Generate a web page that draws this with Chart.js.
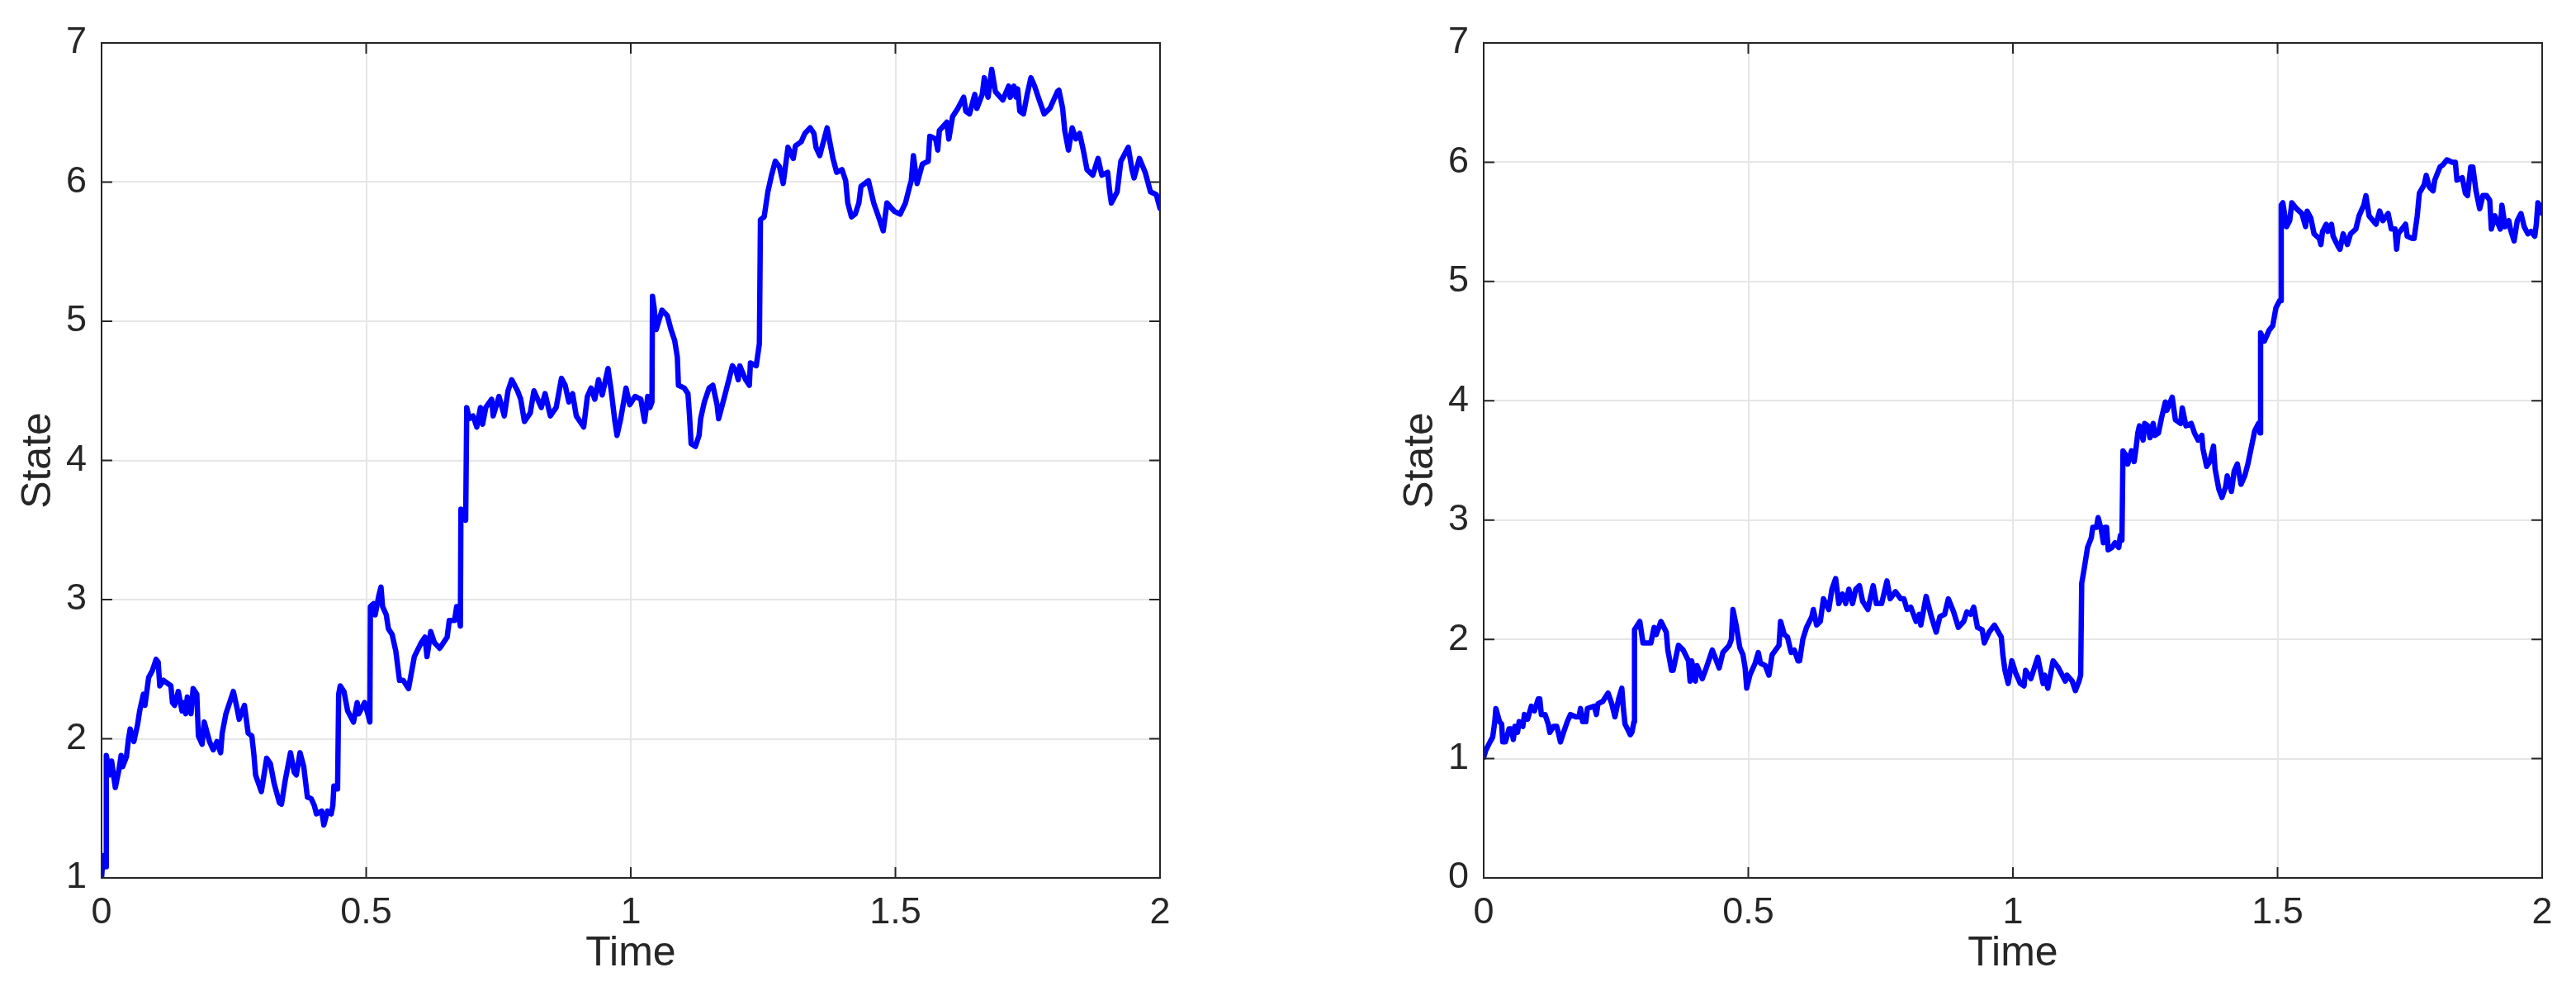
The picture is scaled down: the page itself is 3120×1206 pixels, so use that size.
<!DOCTYPE html>
<html>
<head>
<meta charset="utf-8">
<script src="https://cdn.jsdelivr.net/npm/chart.js@4.4.1/dist/chart.umd.min.js"></script>
<style>
  html, body { margin: 0; padding: 0; background: #fff; }
  body { width: 3120px; height: 1206px; position: relative; overflow: hidden; }
  canvas { position: absolute; top: 0; }
  #leftChart { left: 0; }
  #rightChart { left: 1674px; }
</style>
</head>
<body>
<canvas id="leftChart" width="1446" height="1206"></canvas>
<canvas id="rightChart" width="1446" height="1206"></canvas>
<script>
const timeTicks = [0, 0.5, 1, 1.5, 2];

// left panel: state path
const leftTime = [
  0.000,0.003,0.007,0.008,0.009,0.016,0.019,0.026,0.033,0.037,
  0.040,0.047,0.051,0.054,0.061,0.068,0.072,0.079,0.082,0.089,
  0.096,0.103,0.107,0.110,0.117,0.124,0.131,0.134,0.138,0.145,
  0.152,0.155,0.159,0.162,0.169,0.173,0.180,0.183,0.190,0.194,
  0.204,0.211,0.218,0.225,0.228,0.235,0.242,0.249,0.256,0.260,
  0.270,0.277,0.284,0.288,0.291,0.302,0.312,0.319,0.326,0.336,
  0.340,0.347,0.357,0.364,0.368,0.375,0.382,0.389,0.396,0.402,
  0.406,0.416,0.420,0.427,0.434,0.437,0.439,0.444,0.446,0.448,
  0.451,0.458,0.465,0.476,0.483,0.486,0.497,0.503,0.507,0.508,
  0.514,0.517,0.524,0.528,0.531,0.538,0.542,0.549,0.556,0.563,
  0.570,0.580,0.591,0.604,0.611,0.615,0.622,0.629,0.639,0.653,
  0.657,0.667,0.671,0.674,0.678,0.679,0.685,0.688,0.690,0.695,
  0.702,0.709,0.716,0.720,0.726,0.737,0.740,0.751,0.761,0.768,
  0.775,0.786,0.792,0.799,0.810,0.817,0.824,0.831,0.838,0.848,
  0.859,0.869,0.876,0.883,0.890,0.897,0.911,0.918,0.925,0.932,
  0.939,0.946,0.957,0.963,0.970,0.974,0.981,0.991,0.998,1.008,
  1.019,1.026,1.032,1.036,1.040,1.041,1.044,1.048,1.059,1.069,
  1.076,1.083,1.088,1.090,1.101,1.108,1.111,1.114,1.122,1.129,
  1.132,1.139,1.148,1.155,1.163,1.166,1.173,1.184,1.192,1.199,
  1.203,1.206,1.217,1.224,1.226,1.237,1.243,1.245,1.252,1.259,
  1.266,1.273,1.281,1.288,1.297,1.307,1.311,1.322,1.329,1.339,
  1.346,1.350,1.357,1.371,1.382,1.389,1.399,1.406,1.410,1.417,
  1.424,1.431,1.435,1.449,1.459,1.470,1.477,1.484,1.498,1.509,
  1.519,1.527,1.530,1.534,1.541,1.551,1.562,1.565,1.576,1.580,
  1.583,1.597,1.601,1.608,1.618,1.629,1.633,1.640,1.650,1.654,
  1.664,1.668,1.675,1.682,1.689,1.703,1.714,1.717,1.724,1.728,
  1.731,1.735,1.742,1.749,1.756,1.763,1.770,1.781,1.792,1.806,
  1.809,1.816,1.820,1.827,1.834,1.841,1.848,1.855,1.862,1.873,
  1.883,1.890,1.901,1.905,1.908,1.919,1.926,1.940,1.947,1.951,
  1.961,1.972,1.982,1.993,2.000
];
const leftState = [
  1.00,1.16,1.08,1.08,1.88,1.74,1.84,1.65,1.78,1.88,
  1.80,1.87,2.00,2.07,1.98,2.10,2.20,2.32,2.24,2.44,
  2.49,2.57,2.55,2.38,2.42,2.40,2.38,2.26,2.24,2.34,
  2.20,2.26,2.18,2.30,2.18,2.36,2.32,2.02,1.96,2.12,
  1.98,1.92,1.98,1.90,2.04,2.18,2.26,2.34,2.22,2.14,
  2.24,2.04,2.02,1.88,1.74,1.62,1.86,1.82,1.68,1.54,
  1.53,1.70,1.90,1.76,1.74,1.90,1.80,1.58,1.57,1.52,
  1.46,1.48,1.38,1.48,1.46,1.52,1.66,1.64,1.64,2.32,
  2.38,2.34,2.20,2.12,2.26,2.18,2.26,2.18,2.12,2.95,
  2.97,2.89,3.03,3.09,2.95,2.89,2.79,2.75,2.63,2.42,
  2.42,2.36,2.59,2.69,2.73,2.59,2.77,2.69,2.65,2.73,
  2.85,2.85,2.95,2.91,2.81,3.65,3.63,3.57,4.38,4.30,
  4.32,4.24,4.38,4.26,4.38,4.44,4.32,4.46,4.32,4.50,
  4.58,4.50,4.44,4.28,4.34,4.50,4.44,4.38,4.48,4.32,
  4.38,4.59,4.54,4.42,4.48,4.32,4.24,4.46,4.52,4.44,
  4.58,4.47,4.66,4.50,4.28,4.18,4.30,4.52,4.40,4.46,
  4.44,4.28,4.46,4.38,4.42,5.18,5.10,4.94,5.08,5.04,
  4.94,4.86,4.74,4.54,4.52,4.48,4.32,4.12,4.10,4.18,
  4.30,4.42,4.52,4.54,4.40,4.30,4.40,4.56,4.68,4.64,
  4.58,4.68,4.58,4.54,4.70,4.68,4.84,5.73,5.75,5.93,
  6.05,6.15,6.11,5.99,6.25,6.17,6.26,6.29,6.35,6.39,
  6.35,6.25,6.19,6.39,6.17,6.07,6.09,6.01,5.85,5.75,
  5.77,5.85,5.97,6.01,5.85,5.73,5.65,5.85,5.79,5.77,
  5.85,5.97,6.01,6.19,5.99,6.13,6.15,6.33,6.31,6.23,
  6.37,6.43,6.31,6.47,6.53,6.61,6.51,6.49,6.63,6.53,
  6.63,6.75,6.61,6.81,6.65,6.59,6.69,6.61,6.69,6.61,
  6.67,6.51,6.49,6.63,6.75,6.69,6.61,6.49,6.53,6.65,
  6.66,6.53,6.37,6.23,6.39,6.31,6.35,6.23,6.09,6.05,
  6.17,6.05,6.07,5.93,5.85,5.93,6.15,6.25,6.09,6.03,
  6.17,6.07,5.93,5.91,5.81
];

// right panel
const rightTime = [
  0.000,0.004,0.012,0.017,0.021,0.023,0.030,0.034,0.036,0.041,
  0.048,0.052,0.056,0.059,0.064,0.067,0.074,0.077,0.083,0.090,
  0.096,0.103,0.106,0.109,0.116,0.122,0.125,0.132,0.138,0.141,
  0.145,0.151,0.158,0.164,0.174,0.180,0.183,0.187,0.193,0.196,
  0.209,0.213,0.216,0.225,0.235,0.242,0.248,0.255,0.261,0.264,
  0.267,0.277,0.280,0.284,0.285,0.295,0.301,0.311,0.316,0.322,
  0.326,0.335,0.345,0.348,0.355,0.358,0.368,0.377,0.387,0.390,
  0.393,0.400,0.403,0.413,0.419,0.432,0.445,0.452,0.464,0.468,
  0.471,0.477,0.484,0.490,0.494,0.497,0.503,0.513,0.519,0.523,
  0.532,0.539,0.545,0.558,0.561,0.568,0.574,0.581,0.587,0.594,
  0.597,0.603,0.610,0.620,0.623,0.629,0.636,0.642,0.652,0.658,
  0.665,0.671,0.678,0.684,0.690,0.697,0.703,0.710,0.716,0.726,
  0.736,0.742,0.752,0.762,0.768,0.778,0.788,0.794,0.800,0.807,
  0.817,0.823,0.826,0.836,0.846,0.855,0.862,0.871,0.878,0.888,
  0.897,0.907,0.913,0.920,0.926,0.933,0.942,0.946,0.955,0.965,
  0.978,0.981,0.985,0.991,0.998,1.005,1.014,1.021,1.024,1.034,
  1.047,1.057,1.060,1.066,1.076,1.086,1.099,1.102,1.112,1.118,
  1.125,1.128,1.130,1.135,1.141,1.148,1.151,1.158,1.161,1.167,
  1.171,1.174,1.177,1.180,1.187,1.193,1.200,1.203,1.206,1.208,
  1.214,1.217,1.224,1.229,1.232,1.236,1.239,1.246,1.249,1.255,
  1.259,1.265,1.268,1.275,1.281,1.288,1.291,1.301,1.307,1.317,
  1.320,1.327,1.337,1.343,1.350,1.357,1.359,1.366,1.372,1.379,
  1.382,1.389,1.395,1.402,1.405,1.413,1.418,1.424,1.431,1.438,
  1.444,1.451,1.457,1.464,1.467,1.468,1.475,1.484,1.491,1.497,
  1.504,1.506,1.507,1.510,1.517,1.523,1.527,1.536,1.546,1.553,
  1.556,1.563,1.569,1.579,1.582,1.585,1.592,1.595,1.602,1.605,
  1.615,1.618,1.624,1.632,1.638,1.648,1.654,1.663,1.667,1.673,
  1.686,1.693,1.699,1.709,1.715,1.722,1.725,1.728,1.742,1.745,
  1.755,1.758,1.764,1.768,1.777,1.781,1.787,1.794,1.797,1.807,
  1.813,1.820,1.830,1.836,1.839,1.849,1.855,1.859,1.865,1.869,
  1.875,1.882,1.888,1.895,1.901,1.904,1.911,1.917,1.921,1.924,
  1.930,1.937,1.940,1.947,1.953,1.960,1.966,1.973,1.979,1.986,
  1.989,1.992,1.995,2.000
];
const rightState = [
  1.01,1.07,1.14,1.18,1.31,1.42,1.31,1.29,1.14,1.14,
  1.25,1.25,1.16,1.27,1.22,1.31,1.27,1.37,1.33,1.44,
  1.40,1.50,1.50,1.37,1.37,1.29,1.22,1.27,1.27,1.22,
  1.14,1.22,1.31,1.37,1.35,1.35,1.42,1.31,1.31,1.42,
  1.44,1.37,1.46,1.48,1.55,1.46,1.35,1.50,1.59,1.42,
  1.29,1.20,1.22,1.31,2.08,2.15,1.97,1.97,1.97,2.10,
  2.04,2.15,2.06,1.91,1.74,1.74,1.95,1.91,1.82,1.65,
  1.82,1.65,1.78,1.67,1.74,1.91,1.76,1.89,1.95,2.00,
  2.25,2.12,1.93,1.87,1.76,1.59,1.70,1.80,1.89,1.80,
  1.78,1.70,1.87,1.95,2.15,2.04,2.02,1.89,1.91,1.82,
  1.82,2.00,2.10,2.19,2.25,2.12,2.15,2.34,2.25,2.42,
  2.51,2.30,2.38,2.30,2.42,2.30,2.42,2.45,2.32,2.25,
  2.45,2.30,2.30,2.49,2.34,2.40,2.34,2.34,2.25,2.27,
  2.15,2.21,2.12,2.36,2.19,2.06,2.19,2.21,2.34,2.23,
  2.10,2.15,2.23,2.21,2.27,2.10,2.08,1.97,2.06,2.12,
  2.02,1.87,1.74,1.63,1.82,1.72,1.63,1.61,1.74,1.67,
  1.85,1.63,1.70,1.59,1.82,1.76,1.65,1.70,1.65,1.57,
  1.65,1.70,2.47,2.60,2.77,2.85,2.94,2.94,3.02,2.92,
  2.81,2.94,2.94,2.75,2.77,2.81,2.77,2.87,2.83,3.58,
  3.54,3.47,3.58,3.49,3.58,3.73,3.79,3.67,3.81,3.79,
  3.69,3.81,3.71,3.73,3.86,3.99,3.92,4.03,3.84,3.81,
  3.94,3.79,3.81,3.73,3.67,3.71,3.60,3.45,3.49,3.62,
  3.43,3.26,3.19,3.28,3.37,3.24,3.41,3.47,3.30,3.37,
  3.47,3.62,3.75,3.81,3.73,4.57,4.50,4.59,4.63,4.78,
  4.84,4.84,5.64,5.66,5.46,5.51,5.66,5.61,5.57,5.46,
  5.59,5.53,5.40,5.36,5.31,5.42,5.48,5.42,5.48,5.38,
  5.29,5.27,5.40,5.31,5.40,5.44,5.55,5.64,5.72,5.55,
  5.48,5.59,5.51,5.57,5.44,5.44,5.27,5.40,5.48,5.38,
  5.36,5.36,5.55,5.74,5.81,5.89,5.79,5.76,5.85,5.96,
  5.98,6.02,6.00,6.00,5.85,5.87,5.74,5.72,5.96,5.96,
  5.76,5.61,5.72,5.72,5.68,5.44,5.55,5.48,5.44,5.64,
  5.46,5.51,5.44,5.34,5.51,5.57,5.46,5.40,5.42,5.38,
  5.48,5.66,5.64,5.57
];

const textColor = '#262626';
const fontFamily = "'Liberation Sans', Arial, Helvetica, sans-serif";

// box around the plot area plus inward tick marks on all four sides
const axesBox = {
  id: 'axesBox',
  afterDatasetsDraw(chart) {
    const { ctx, chartArea: a, scales: { x, y } } = chart;
    const len = 13;
    ctx.save();
    ctx.strokeStyle = textColor;
    ctx.lineWidth = 2;
    ctx.beginPath();
    x.ticks.forEach(t => {
      const px = x.getPixelForValue(t.value);
      ctx.moveTo(px, a.bottom); ctx.lineTo(px, a.bottom - len);
      ctx.moveTo(px, a.top); ctx.lineTo(px, a.top + len);
    });
    y.ticks.forEach(t => {
      const py = y.getPixelForValue(t.value);
      ctx.moveTo(a.left, py); ctx.lineTo(a.left + len, py);
      ctx.moveTo(a.right, py); ctx.lineTo(a.right - len, py);
    });
    ctx.stroke();
    ctx.strokeRect(a.left, a.top, a.right - a.left, a.bottom - a.top);
    ctx.restore();
  }
};

function makeChart(id, times, states, yMin) {
  new Chart(document.getElementById(id), {
    type: 'line',
    data: {
      datasets: [{
        data: times.map((t, i) => ({ x: t, y: states[i] })),
        borderColor: '#0000ff',
        borderWidth: 6.5,
        borderJoinStyle: 'round',
        borderCapStyle: 'round',
        pointRadius: 0,
        tension: 0,
        fill: false
      }]
    },
    options: {
      responsive: false,
      animation: false,
      devicePixelRatio: 1,
      layout: { padding: { left: 0, top: 52, right: 41, bottom: 0 } },
      plugins: { legend: { display: false }, tooltip: { enabled: false } },
      scales: {
        x: {
          type: 'linear',
          min: timeTicks[0],
          max: timeTicks[timeTicks.length - 1],
          afterBuildTicks: s => { s.ticks = timeTicks.map(v => ({ value: v })); },
          afterFit: s => { s.height = 143; },
          border: { display: false },
          grid: { color: '#e6e6e6', lineWidth: 2, drawTicks: false },
          ticks: {
            color: textColor,
            padding: 16,
            maxRotation: 0,
            callback: v => String(v),
            font: { family: fontFamily, size: 45 }
          },
          title: {
            display: true,
            text: 'Time',
            color: textColor,
            font: { family: fontFamily, size: 50 },
            padding: { top: 0, bottom: 21 }
          }
        },
        y: {
          min: yMin,
          max: 7,
          afterFit: s => { s.width = 123; },
          border: { display: false },
          grid: { color: '#e6e6e6', lineWidth: 2, drawTicks: false },
          ticks: {
            stepSize: 1,
            color: textColor,
            padding: 18,
            font: { family: fontFamily, size: 45 }
          },
          title: {
            display: true,
            text: 'State',
            color: textColor,
            font: { family: fontFamily, size: 50 },
            padding: { top: 17, bottom: 0 }
          }
        }
      }
    },
    plugins: [axesBox]
  });
}

makeChart('leftChart', leftTime, leftState, 1);
makeChart('rightChart', rightTime, rightState, 0);
</script>
</body>
</html>
